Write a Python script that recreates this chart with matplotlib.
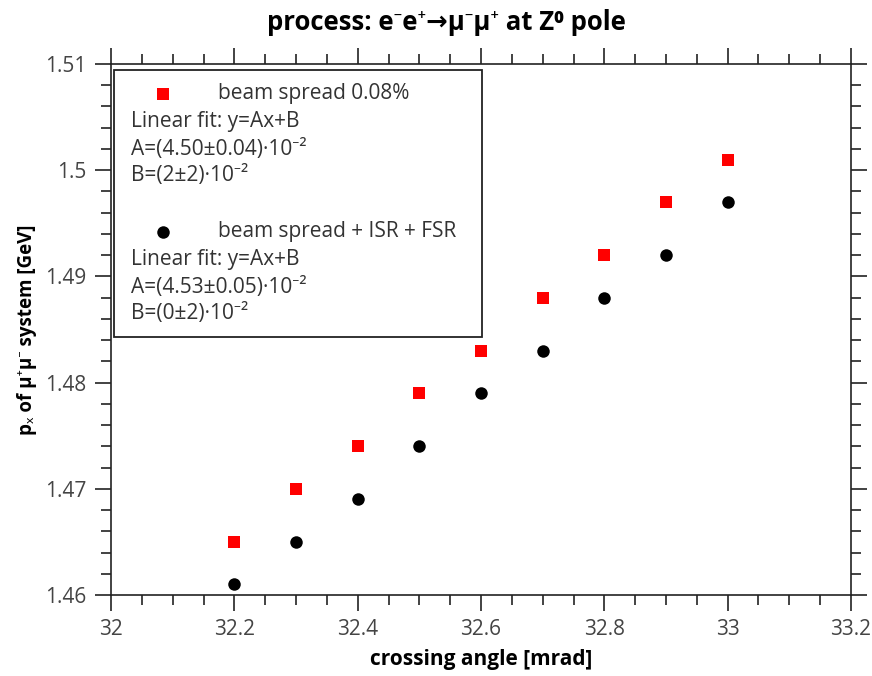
import matplotlib
matplotlib.use("Agg")
import matplotlib.pyplot as plt
from matplotlib.ticker import MultipleLocator, FuncFormatter
from matplotlib.patches import Rectangle

FONT = ['Open Sans', 'Noto Sans', 'DejaVu Sans']
plt.rcParams['font.family'] = FONT

angles = [32.2, 32.3, 32.4, 32.5, 32.6, 32.7, 32.8, 32.9, 33.0]
px_beam = [1.465, 1.470, 1.474, 1.479, 1.483, 1.488, 1.492, 1.497, 1.501]
px_full = [1.461, 1.465, 1.469, 1.474, 1.479, 1.483, 1.488, 1.492, 1.497]

title = "process: e\u207be\u207a\u2192\u03bc\u207b\u03bc\u207a at Z\u2070 pole"
xlabel = "crossing angle [mrad]"
ylabel = "p\u2093 of \u03bc\u207a\u03bc\u207b system [GeV]"

legend1 = ["beam spread 0.08%", "Linear fit: y=Ax+B",
           "A=(4.50\u00b10.04)\u00b710\u207b\u00b2", "B=(2\u00b12)\u00b710\u207b\u00b2"]
legend2 = ["beam spread + ISR + FSR", "Linear fit: y=Ax+B",
           "A=(4.53\u00b10.05)\u00b710\u207b\u00b2", "B=(0\u00b12)\u00b710\u207b\u00b2"]

W, H = 872, 676
fig = plt.figure(figsize=(W / 100, H / 100), dpi=100)
ax = fig.add_axes([111 / W, 1 - 595 / H, (851 - 111) / W, (595 - 64) / H])

ax.plot(angles, px_beam, linestyle='none', marker='s', color='#ff0000', markersize=8.5, markeredgewidth=0)
ax.plot(angles, px_full, linestyle='none', marker='o', color='black', markersize=9, markeredgewidth=0)

ax.set_xlim(32, 33.2)
ax.set_ylim(1.46, 1.51)
ax.xaxis.set_major_locator(MultipleLocator(0.2))
ax.xaxis.set_minor_locator(MultipleLocator(0.05))
ax.yaxis.set_major_locator(MultipleLocator(0.01))
ax.yaxis.set_minor_locator(MultipleLocator(0.002))
fmt = FuncFormatter(lambda v, p: '%g' % round(v, 4))
ax.xaxis.set_major_formatter(fmt)
ax.yaxis.set_major_formatter(fmt)

spc = '#222222'
for s in ax.spines.values():
    s.set_color(spc)
    s.set_linewidth(1.2)
ax.tick_params(which='both', direction='out', top=True, right=True,
               color=spc, width=1.2, labelcolor='#444444', labelsize=15)
ax.tick_params(which='major', length=11.5, pad=6)
ax.tick_params(which='minor', length=7)

ax.set_xlabel(xlabel, fontsize=15, fontweight='bold', labelpad=6)
ax.set_ylabel(ylabel, fontsize=13.5, fontweight='bold', labelpad=6)
fig.text(446 / W, 1 - 22 / H, title, ha='center', va='center', fontsize=18.5, fontweight='bold')

def fx(x):
    return x / W
def fy(y):
    return 1 - y / H

fig.patches.append(Rectangle((fx(114), fy(337)), (482 - 114) / W, (337 - 70) / H,
                             transform=fig.transFigure, facecolor='white',
                             edgecolor='#222222', linewidth=1.3, zorder=5))
ys1 = [94, 122, 149, 176]
ys2 = [232, 260, 287, 314]
for lines, ys in ((legend1, ys1), (legend2, ys2)):
    for i, (t, y) in enumerate(zip(lines, ys)):
        x0 = 218 if i == 0 else 131
        fig.text(fx(x0), fy(y), t, ha='left', va='center', fontsize=15, color='#333333', zorder=6)
fig.lines.append(plt.Line2D([fx(163)], [fy(94)], transform=fig.transFigure, marker='s',
                            color='#ff0000', markersize=8.5, markeredgewidth=0, linestyle='none', zorder=7))
fig.lines.append(plt.Line2D([fx(163)], [fy(232)], transform=fig.transFigure, marker='o',
                            color='black', markersize=9, markeredgewidth=0, linestyle='none', zorder=7))

fig.savefig('out.png', dpi=100)
